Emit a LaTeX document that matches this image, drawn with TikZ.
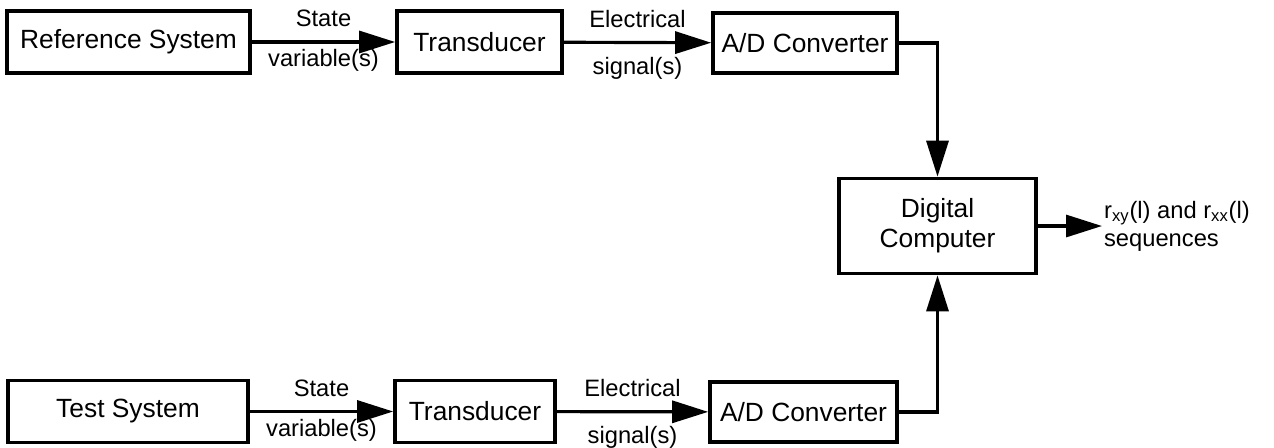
\documentclass[tikz,border=0pt]{standalone}
\usepackage{fontspec}
\setmainfont{Liberation Sans}
\usetikzlibrary{arrows.meta}
\begin{document}
\begin{tikzpicture}[x=0.02cm,y=-0.02cm,
  block/.style={draw, line width=2.1pt, align=center, inner sep=0pt, font=\fontsize{15}{18}\selectfont},
  sig/.style={line width=1.8pt, -{Triangle[length=0.72cm,width=0.44cm]}},
  lbl/.style={font=\fontsize{13.5}{16}\selectfont}]
\useasboundingbox (0,0) rectangle (1274,447);
% upper chain
\node[block, minimum width=4.86cm, minimum height=1.24cm] (refsys) at (128.5,42) {Reference System};
\node[block, minimum width=3.3cm, minimum height=1.24cm] (tdref) at (479.5,42) {Transducer};
\node[block, minimum width=3.68cm, minimum height=1.2cm] (adref) at (805,43) {A/D Converter};
% lower chain
\node[block, minimum width=4.8cm, minimum height=1.24cm] (testsys) at (128,411.5) {Test System};
\node[block, minimum width=3.2cm, minimum height=1.24cm] (tdtest) at (475,411.5) {Transducer};
\node[block, minimum width=3.74cm, minimum height=1.2cm] (adtest) at (803.5,412) {A/D Converter};
% computer
\node[block, minimum width=3.94cm, minimum height=1.9cm, font=\fontsize{15}{17}\selectfont] (dc) at (937.5,226) {Digital\\Computer};
\node[lbl, align=left, anchor=west, inner sep=1pt] (out) at (1102,226) {r\textsubscript{xy}(l) and r\textsubscript{xx}(l)\\sequences};

\draw[sig] (refsys) -- node[lbl,above=0.15cm]{State} node[lbl,below]{variable(s)} (tdref);
\draw[sig] (tdref) -- node[lbl,above=0.15cm]{Electrical} node[lbl,below=0.15cm]{signal(s)} (adref);
\draw[sig] (testsys) -- node[lbl,above=0.15cm]{State} node[lbl,below]{variable(s)} (tdtest);
\draw[sig] (tdtest) -- node[lbl,above=0.15cm]{Electrical} node[lbl,below=0.15cm]{signal(s)} (adtest);
\draw[sig] (adref.east) -| (dc.north);
\draw[sig] (adtest.east) -| (dc.south);
\draw[sig] (dc.east) -- (out.west);
\end{tikzpicture}
\end{document}
